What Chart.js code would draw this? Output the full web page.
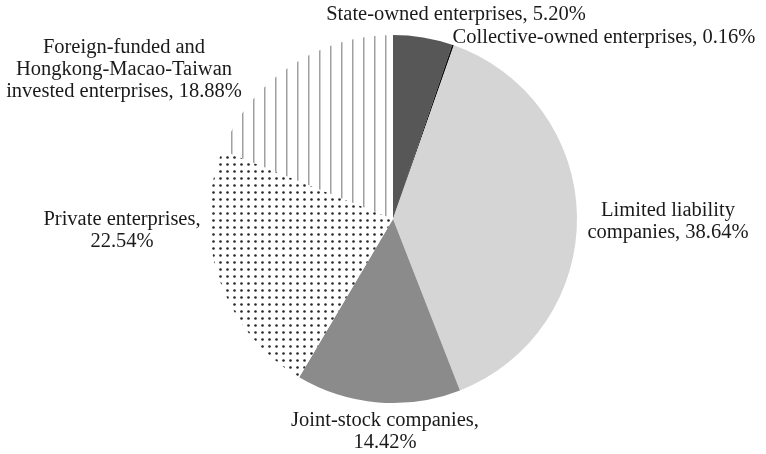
<!DOCTYPE html>
<html>
<head>
<meta charset="utf-8">
<script src="https://cdn.jsdelivr.net/npm/chart.js@4/dist/chart.umd.min.js"></script>
<style>
  html, body { margin: 0; padding: 0; background: #fff; }
  canvas { display: block; }
</style>
</head>
<body>
<canvas id="myChart" width="766" height="454"></canvas>
<script>
const categories = [
  "State-owned enterprises",
  "Collective-owned enterprises",
  "Limited liability companies",
  "Joint-stock companies",
  "Private enterprises",
  "Foreign-funded and Hongkong-Macao-Taiwan invested enterprises"
];
const shares = [5.20, 0.16, 38.64, 14.42, 22.54, 18.88];

// how each label is broken into lines (percent appended to last line)
const labelLines = [
  ["State-owned enterprises, "],
  ["Collective-owned enterprises, "],
  ["Limited liability", "companies, "],
  ["Joint-stock companies,", ""],
  ["Private enterprises,", ""],
  ["Foreign-funded and", "Hongkong-Macao-Taiwan", "invested enterprises, "]
];

// label anchor offsets from the pie centre (px), first line centre
const labelOffsets = [
  [63, -204],
  [211, -181],
  [275, -8],
  [-8, 202],
  [-271, 1],
  [-269, -171]
];

function stripes() {
  const c = document.createElement("canvas");
  c.width = 11; c.height = 11;
  const g = c.getContext("2d");
  g.fillStyle = "#fff";
  g.fillRect(0, 0, 11, 11);
  g.fillStyle = "#a0a0a0";
  g.fillRect(0, 0, 1.5, 11);
  return g.createPattern(c, "repeat");
}

function dots() {
  const c = document.createElement("canvas");
  c.width = 7; c.height = 7;
  const g = c.getContext("2d");
  g.fillStyle = "#fff";
  g.fillRect(0, 0, 7, 7);
  g.fillStyle = "#262626";
  g.beginPath();
  g.arc(3.5, 3.5, 1.3, 0, Math.PI * 2);
  g.fill();
  return g.createPattern(c, "repeat");
}

const sliceLabels = {
  id: "sliceLabels",
  afterDraw(chart) {
    const ctx = chart.ctx;
    const arc = chart.getDatasetMeta(0).data[0];
    const cx = arc.x, cy = arc.y;
    ctx.save();
    ctx.font = '20.5px "Liberation Serif", "DejaVu Serif", serif';
    ctx.fillStyle = "#1a1a1a";
    ctx.textAlign = "center";
    ctx.textBaseline = "middle";
    labelLines.forEach((lines, i) => {
      const [dx, dy] = labelOffsets[i];
      lines.forEach((t, j) => {
        const text = j === lines.length - 1 ? t + shares[i].toFixed(2) + "%" : t;
        ctx.fillText(text, cx + dx, cy + dy + j * 22);
      });
    });
    ctx.restore();
  }
};

const ctx = document.getElementById("myChart").getContext("2d");

const myChart = new Chart(ctx, {
  type: "pie",
  data: {
    labels: categories,
    datasets: [{
      data: shares,
      backgroundColor: ["#575757", "#111111", "#d5d5d5", "#8b8b8b", dots(), stripes()],
      borderWidth: 0
    }]
  },
  options: {
    responsive: false,
    animation: false,
    layout: { padding: { top: 35, bottom: 51, left: 209, right: 189 } },
    plugins: {
      legend: { display: false },
      tooltip: { enabled: false }
    }
  },
  plugins: [sliceLabels]
});
</script>
</body>
</html>
